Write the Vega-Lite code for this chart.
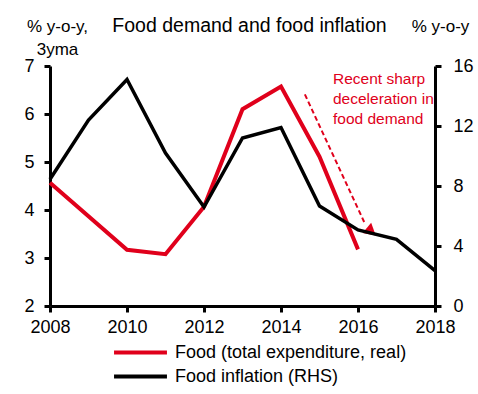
{
  "$schema": "https://vega.github.io/schema/vega-lite/v6.json",
  "width": 385,
  "height": 240,
  "autosize": {"type": "none"},
  "padding": {"left": 50, "top": 66, "right": 43, "bottom": 88},
  "background": "white",
  "config": {
    "view": {"stroke": null},
    "font": "Liberation Sans",
    "axis": {
      "grid": false,
      "domainColor": "black",
      "domainWidth": 3,
      "tickColor": "black",
      "tickWidth": 3,
      "tickSize": 6,
      "labelFont": "Liberation Sans",
      "labelFontSize": 18,
      "labelColor": "black",
      "titleFont": "Liberation Sans",
      "titleFontSize": 17,
      "titleFontWeight": "normal",
      "titleColor": "black"
    },
    "legend": {
      "orient": "none",
      "padding": 0,
      "title": null,
      "symbolType": "stroke",
      "symbolSize": 2800,
      "symbolStrokeWidth": 4,
      "labelFontSize": 18,
      "labelFont": "Liberation Sans",
      "labelColor": "black",
      "labelLimit": 400,
      "labelOffset": 6
    },
    "text": {"lineBreak": "\n"}
  },
  "title": {
    "text": "Food demand and food inflation",
    "fontSize": 19.5,
    "fontWeight": "normal",
    "font": "Liberation Sans",
    "color": "black",
    "anchor": "middle",
    "dx": 7,
    "frame": "group",
    "baseline": "middle",
    "offset": -28
  },
  "datasets": {
    "food": [
      {"year": 2008, "v": 4.57},
      {"year": 2010, "v": 3.17},
      {"year": 2011, "v": 3.08},
      {"year": 2012, "v": 4.07},
      {"year": 2013, "v": 6.1},
      {"year": 2014, "v": 6.57},
      {"year": 2015, "v": 5.11},
      {"year": 2016, "v": 3.18}
    ],
    "inflation": [
      {"year": 2008, "v": 8.45},
      {"year": 2009, "v": 12.4},
      {"year": 2010, "v": 15.1},
      {"year": 2011, "v": 10.2},
      {"year": 2012, "v": 6.6},
      {"year": 2013, "v": 11.2},
      {"year": 2014, "v": 11.9},
      {"year": 2015, "v": 6.67},
      {"year": 2016, "v": 5.07},
      {"year": 2017, "v": 4.44},
      {"year": 2018, "v": 2.36}
    ],
    "arrow": [
      {"year": 2014.62, "v": 6.41},
      {"year": 2016.16, "v": 3.75}
    ],
    "head": [
      {"year": 2016.26, "v": 3.56}
    ],
    "note": [
      {"year": 2015.35, "v": 6.87, "label": "Recent sharp\ndeceleration in\nfood demand"}
    ]
  },
  "encoding": {
    "x": {
      "field": "year",
      "type": "quantitative",
      "scale": {"domain": [2008, 2018], "nice": false, "zero": false},
      "axis": {"values": [2008, 2010, 2012, 2014, 2016, 2018], "format": "d", "title": null, "labelPadding": 6, "labelFlush": false}
    }
  },
  "layer": [
    {
      "layer": [
        {
          "data": {"name": "food"},
          "mark": {"type": "line", "strokeWidth": 4},
          "encoding": {
            "y": {
              "field": "v",
              "type": "quantitative",
              "scale": {"domain": [2, 7], "nice": false, "zero": false},
              "axis": {
                "orient": "left",
                "values": [2, 3, 4, 5, 6, 7],
                "labelPadding": 10,
                "title": ["% y-o-y,", "3yma"],
                "titleAngle": 0,
                "titleAlign": "center",
                "titleBaseline": "top",
                "titleLineHeight": 23,
                "titleX": 7,
                "titleY": -48
              }
            },
            "color": {
              "datum": "Food (total expenditure, real)",
              "type": "nominal",
              "scale": {
                "domain": ["Food (total expenditure, real)"],
                "range": ["#e0001b"]
              },
              "legend": {"legendX": 62, "legendY": 258}
            }
          }
        },
        {
          "data": {"name": "arrow"},
          "mark": {"type": "line", "strokeWidth": 2, "strokeDash": [5, 3], "color": "#e0001b"},
          "encoding": {
            "y": {"field": "v", "type": "quantitative"}
          }
        },
        {
          "data": {"name": "head"},
          "mark": {"type": "point", "shape": "triangle-left", "filled": true, "size": 180, "color": "#e0001b", "opacity": 1, "angle": 340},
          "encoding": {
            "y": {"field": "v", "type": "quantitative"}
          }
        },
        {
          "data": {"name": "note"},
          "mark": {"type": "text", "align": "left", "baseline": "top", "fontSize": 15.5, "lineHeight": 20, "color": "#e0001b", "font": "Liberation Sans"},
          "encoding": {
            "y": {"field": "v", "type": "quantitative"},
            "text": {"field": "label"}
          }
        }
      ]
    },
    {
      "data": {"name": "inflation"},
      "mark": {"type": "line", "strokeWidth": 3.5},
      "encoding": {
        "y": {
          "field": "v",
          "type": "quantitative",
          "scale": {"domain": [0, 16], "nice": false, "zero": false},
          "axis": {
            "orient": "right",
            "values": [0, 4, 8, 12, 16],
            "labelPadding": 12,
            "title": "% y-o-y",
            "titleAngle": 0,
            "titleAlign": "center",
            "titleBaseline": "top",
            "titleX": 5,
            "titleY": -48
          }
        },
        "stroke": {
          "datum": "Food inflation (RHS)",
          "type": "nominal",
          "scale": {"domain": ["Food inflation (RHS)"], "range": ["black"]},
          "legend": {"legendX": 62, "legendY": 282}
        }
      }
    }
  ],
  "resolve": {"scale": {"y": "independent"}}
}
